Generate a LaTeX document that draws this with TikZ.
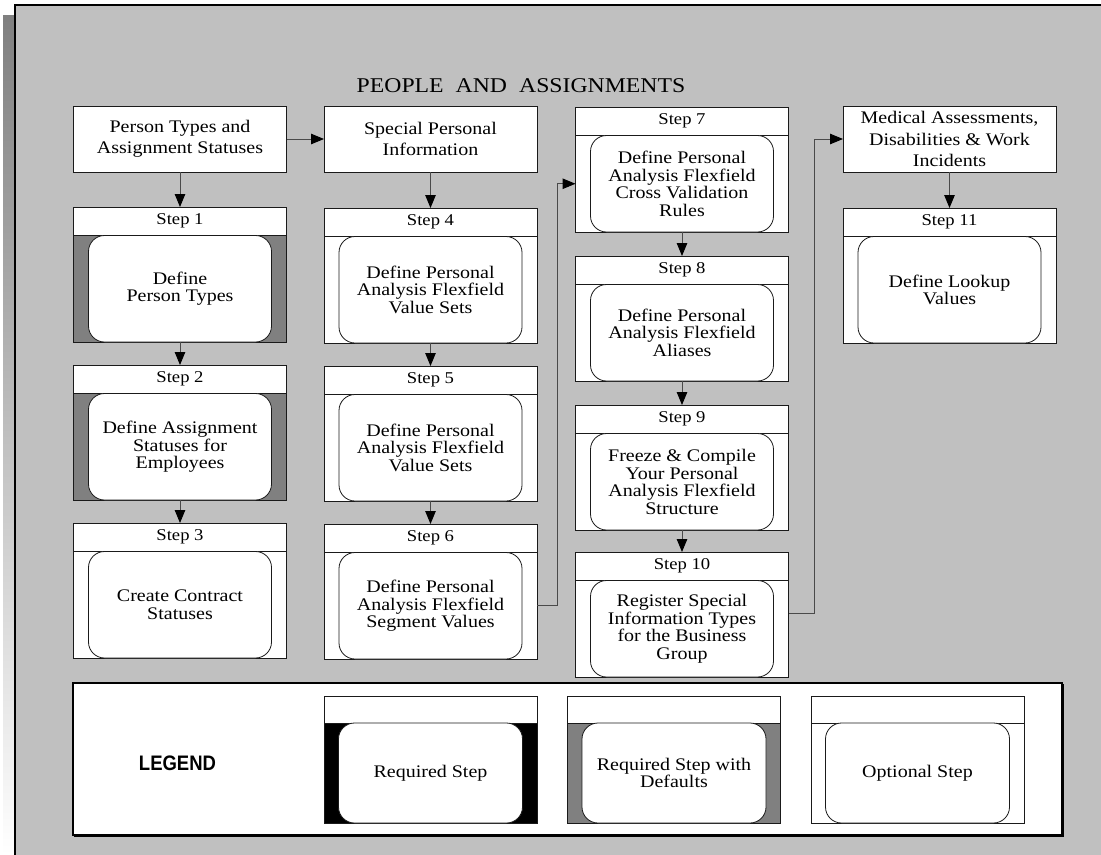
\documentclass[tikz,border=0pt]{standalone}
\usepackage{fontspec}
\setmainfont[FakeStretch=1.13]{Liberation Serif}
\newfontfamily\dgSans[FakeStretch=0.88]{Liberation Sans}
\usetikzlibrary{arrows.meta,positioning,calc}

\definecolor{panel}{HTML}{C0C0C0}
\definecolor{shade}{HTML}{808080}
\definecolor{edge}{HTML}{1A1A1A}
\definecolor{wire}{HTML}{4A4A4A}

\newcommand{\dgBody}{\fontsize{17.7bp}{17.5bp}\selectfont}
\newcommand{\dgTop}{\fontsize{17.7bp}{21.5bp}\selectfont}
\newcommand{\dgHead}{\fontsize{16.5bp}{18bp}\selectfont}
\newcommand{\dgTitle}{\fontsize{21bp}{24bp}\selectfont}

% one step: name, x centre, top y, body height, surround fill, header, text
\newcommand{\dgStep}[7]{%
  \node[hdrbox] (#1h) at (#2,#3) {#6};
  \node[bodybox, fill=#5, minimum height=#4bp] (#1) at (#1h.south) {};
  \node[core, minimum height=#4bp] (#1c) at (#1) {#7};
}

\begin{document}
\begin{tikzpicture}[x=1bp, y=-1bp,
  topbox/.style={draw=edge, fill=white, line width=1bp, minimum width=213bp,
    minimum height=66bp, align=center, inner sep=0pt, outer sep=0pt, font=\dgTop},
  hdrbox/.style={draw=edge, fill=white, line width=1bp, minimum width=213bp,
    minimum height=28.5bp, inner sep=0pt, outer sep=0pt, font=\dgHead, anchor=north},
  bodybox/.style={draw=edge, line width=1bp, minimum width=213bp,
    inner sep=0pt, outer sep=0pt, anchor=north},
  core/.style={draw=edge, fill=white, rounded corners=16bp, line width=0.8bp,
    minimum width=183bp, inner sep=0pt, outer sep=0pt, align=center, font=\dgBody},
  keyhdr/.style={draw=edge, fill=white, line width=0.8bp, minimum width=213bp,
    minimum height=27bp, inner sep=0pt, outer sep=0pt, anchor=north},
  keybody/.style={draw=edge, line width=0.8bp, minimum width=213bp,
    minimum height=100bp, inner sep=0pt, outer sep=0pt, anchor=north},
  keycore/.style={draw=edge, fill=white, rounded corners=16bp, line width=0.8bp,
    minimum width=184bp, minimum height=100bp, inner sep=0pt, outer sep=0pt,
    align=center, font=\dgBody},
  conn/.style={draw=wire, line width=1bp, -{Triangle[length=13bp,width=10.5bp,fill=black,color=black]}}
]
\useasboundingbox (0,0) rectangle (1101,855);

% panel, its shadow and frame
\fill[shade] (3,15) rectangle (15,855);
\fill[panel] (15,5) rectangle (1101,855);
\draw[black, line width=2bp] (15,855) -- (15,5) -- (1101,5);

\node[font=\dgTitle, anchor=base] (title) at (521,92)
  {PEOPLE\hspace{12bp}AND\hspace{12bp}ASSIGNMENTS};

% heading boxes
\node[topbox] (person)  at (180,139)    {Person Types and\\Assignment Statuses};
\node[topbox] (special) at (430.5,139)  {Special Personal\\Information};
\node[topbox] (medical) at (949.5,139)  {Medical Assessments,\\Disabilities \& Work\\Incidents};

% first column
\dgStep{s1}{180}{207}{106.5}{shade}{Step 1}{Define\\Person Types}
\dgStep{s2}{180}{365}{106.5}{shade}{Step 2}{Define Assignment\\Statuses for\\Employees}
\dgStep{s3}{180}{523}{106.5}{white}{Step 3}{Create Contract\\Statuses}

% second column
\dgStep{s4}{430.5}{208}{106.5}{white}{Step 4}{Define Personal\\Analysis Flexfield\\Value Sets}
\dgStep{s5}{430.5}{366}{106.5}{white}{Step 5}{Define Personal\\Analysis Flexfield\\Value Sets}
\dgStep{s6}{430.5}{524}{106.5}{white}{Step 6}{Define Personal\\Analysis Flexfield\\Segment Values}

% third column
\dgStep{s7}{682}{107}{96.5}{white}{Step 7}{Define Personal\\Analysis Flexfield\\Cross Validation\\Rules}
\dgStep{s8}{682}{256}{96.5}{white}{Step 8}{Define Personal\\Analysis Flexfield\\Aliases}
\dgStep{s9}{682}{405}{96.5}{white}{Step 9}{Freeze \& Compile\\Your Personal\\Analysis Flexfield\\Structure}
\dgStep{s10}{682}{552}{96.5}{white}{Step 10}{Register Special\\Information Types\\for the Business\\Group}

% fourth column
\dgStep{s11}{949.5}{208}{106.5}{white}{Step 11}{Define Lookup\\Values}

% connectors
\draw[conn] (person) -- (special);
\draw[conn] (person) -- (s1h);
\draw[conn] (s1) -- (s2h);
\draw[conn] (s2) -- (s3h);
\draw[conn] (special) -- (s4h);
\draw[conn] (s4) -- (s5h);
\draw[conn] (s5) -- (s6h);
\draw[conn] (s6.east) -- ++(20,0) |- (s7.west);
\draw[conn] (s7) -- (s8h);
\draw[conn] (s8) -- (s9h);
\draw[conn] (s9) -- (s10h);
\draw[conn] ([yshift=15bp]s10.east) -- ++(26,0) |- (medical.west);
\draw[conn] (medical) -- (s11h);

% legend
\node[draw=black, fill=white, line width=1.2bp, minimum width=989bp, minimum height=152bp,
  inner sep=0pt, outer sep=0pt] (legend) at (567.5,759) {};
\draw[black, line width=1bp] ([xshift=1bp,yshift=-1bp]legend.south west) -|
  ([xshift=1bp,yshift=-1bp]legend.north east);
\node[font=\dgSans\bfseries\fontsize{21bp}{24bp}\selectfont] (legendlabel) at (177.5,763) {LEGEND};

\node[keyhdr] (k1h) at (430.5,696) {};
\node[keybody, fill=black] (k1) at (k1h.south) {};
\node[keycore] (k1c) at (k1) {Required Step};

\node[keyhdr] (k2h) at (674,696) {};
\node[keybody, fill=shade] (k2) at (k2h.south) {};
\node[keycore] (k2c) at (k2) {Required Step with\\Defaults};

\node[keyhdr] (k3h) at (917.5,696) {};
\node[keybody, fill=white] (k3) at (k3h.south) {};
\node[keycore] (k3c) at (k3) {Optional Step};
\end{tikzpicture}
\end{document}
